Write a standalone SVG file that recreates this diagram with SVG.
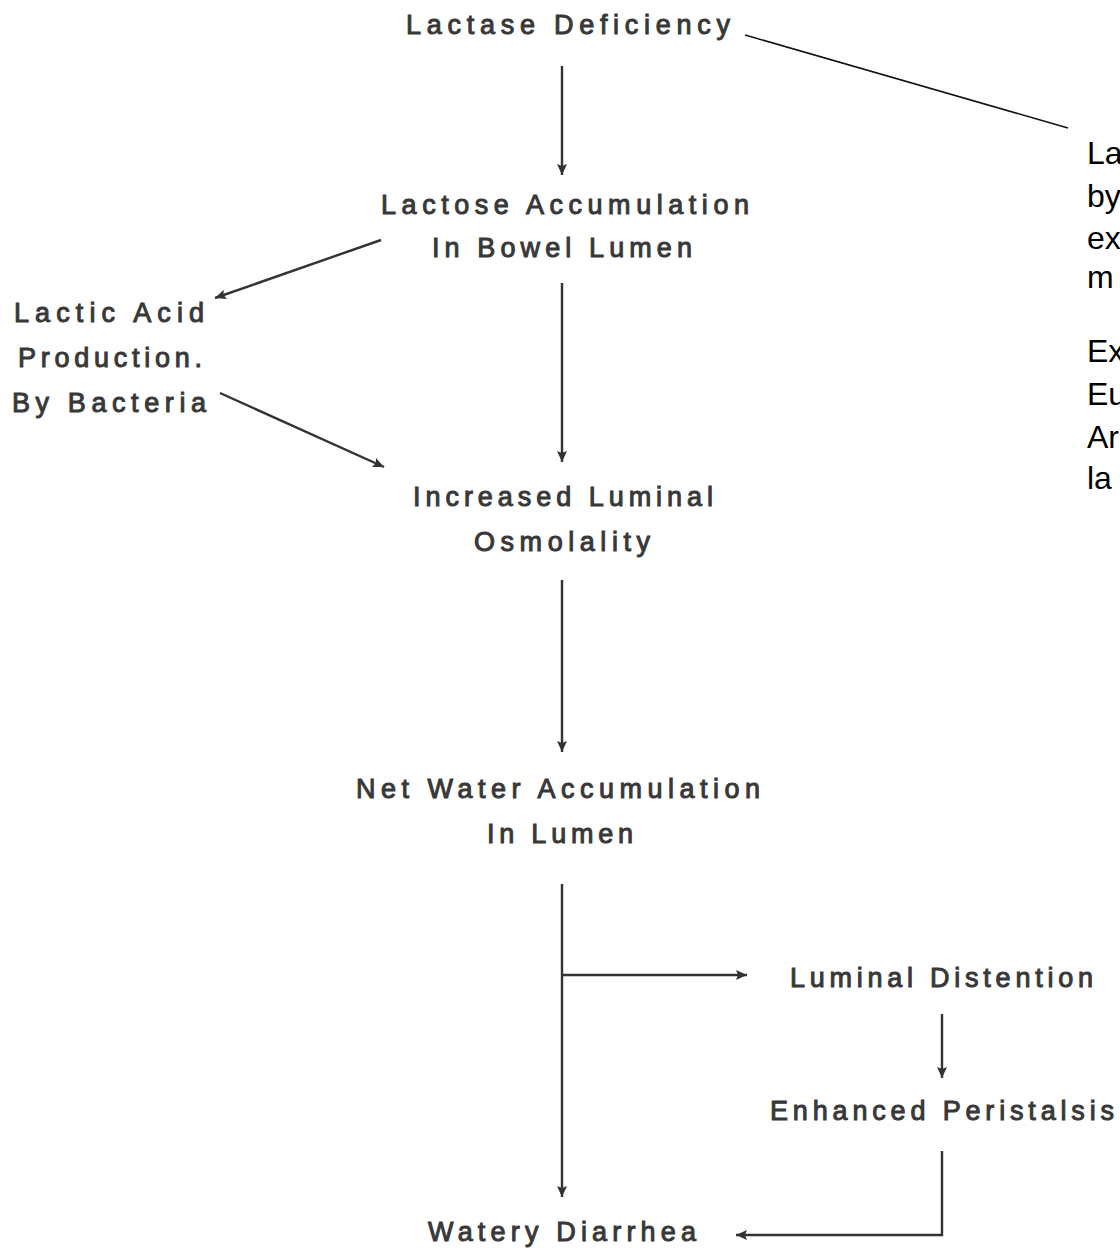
<svg xmlns="http://www.w3.org/2000/svg" width="1120" height="1248" viewBox="0 0 1120 1248">
<style>
.n{font-family:"Liberation Sans",Arial,sans-serif;font-size:27px;fill:#383838;stroke:#383838;stroke-width:1px}
.r{font-family:"Liberation Sans",Arial,sans-serif;font-size:32px;fill:#000}
.c{stroke:#333;stroke-width:2.4;fill:none}
</style>
<defs>
<marker id="ah" markerUnits="userSpaceOnUse" markerWidth="14" markerHeight="14" refX="11" refY="6" orient="auto">
<path d="M0,1 L11,6 L0,11 L2,6 Z" fill="#333"/>
</marker>
</defs>
<rect width="1120" height="1248" fill="#fff"/>
<g id="connectors">
<line class="c" x1="562" y1="66" x2="562" y2="175" marker-end="url(#ah)"/>
<line class="c" x1="562" y1="283" x2="562" y2="462" marker-end="url(#ah)"/>
<line class="c" x1="562" y1="580" x2="562" y2="752" marker-end="url(#ah)"/>
<line class="c" x1="562" y1="884" x2="562" y2="1197" marker-end="url(#ah)"/>
<line class="c" x1="562" y1="975" x2="747" y2="975" marker-end="url(#ah)"/>
<line class="c" x1="942" y1="1014" x2="942" y2="1078" marker-end="url(#ah)"/>
<path class="c" d="M942 1151 V1235 H736" marker-end="url(#ah)"/>
<line class="c" x1="381" y1="240" x2="215" y2="298" marker-end="url(#ah)"/>
<line class="c" x1="220" y1="393" x2="384" y2="467" marker-end="url(#ah)"/>
<line x1="745" y1="35" x2="1068" y2="128" stroke="#111" stroke-width="1.6"/>
</g>
<g id="lactase-deficiency"><text class="n" x="406" y="34" textLength="324" lengthAdjust="spacing">Lactase Deficiency</text></g>
<g id="lactose-accumulation"><text class="n" x="381" y="214" textLength="368" lengthAdjust="spacing">Lactose Accumulation</text><text class="n" x="432" y="257" textLength="260" lengthAdjust="spacing">In Bowel Lumen</text></g>
<g id="lactic-acid"><text class="n" x="14" y="322" textLength="190" lengthAdjust="spacing">Lactic Acid</text><text class="n" x="18" y="367" textLength="184" lengthAdjust="spacing">Production.</text><text class="n" x="12" y="412" textLength="194" lengthAdjust="spacing">By Bacteria</text></g>
<g id="increased-osmolality"><text class="n" x="413" y="506" textLength="300" lengthAdjust="spacing">Increased Luminal</text><text class="n" x="474" y="551" textLength="176" lengthAdjust="spacing">Osmolality</text></g>
<g id="net-water"><text class="n" x="356" y="798" textLength="404" lengthAdjust="spacing">Net Water Accumulation</text><text class="n" x="487" y="843" textLength="146" lengthAdjust="spacing">In Lumen</text></g>
<g id="luminal-distention"><text class="n" x="790" y="987" textLength="303" lengthAdjust="spacing">Luminal Distention</text></g>
<g id="enhanced-peristalsis"><text class="n" x="770" y="1120" textLength="344" lengthAdjust="spacing">Enhanced Peristalsis</text></g>
<g id="watery-diarrhea"><text class="n" x="428" y="1241" textLength="268" lengthAdjust="spacing">Watery Diarrhea</text></g>
<g id="note">
<text class="r" x="1087" y="164">La</text>
<text class="r" x="1087" y="207">by</text>
<text class="r" x="1087" y="249">ex</text>
<text class="r" x="1087" y="288">m</text>
<text class="r" x="1087" y="362">Ex</text>
<text class="r" x="1087" y="405">Eu</text>
<text class="r" x="1087" y="448">Ar</text>
<text class="r" x="1087" y="489">la</text>
</g>
</svg>
